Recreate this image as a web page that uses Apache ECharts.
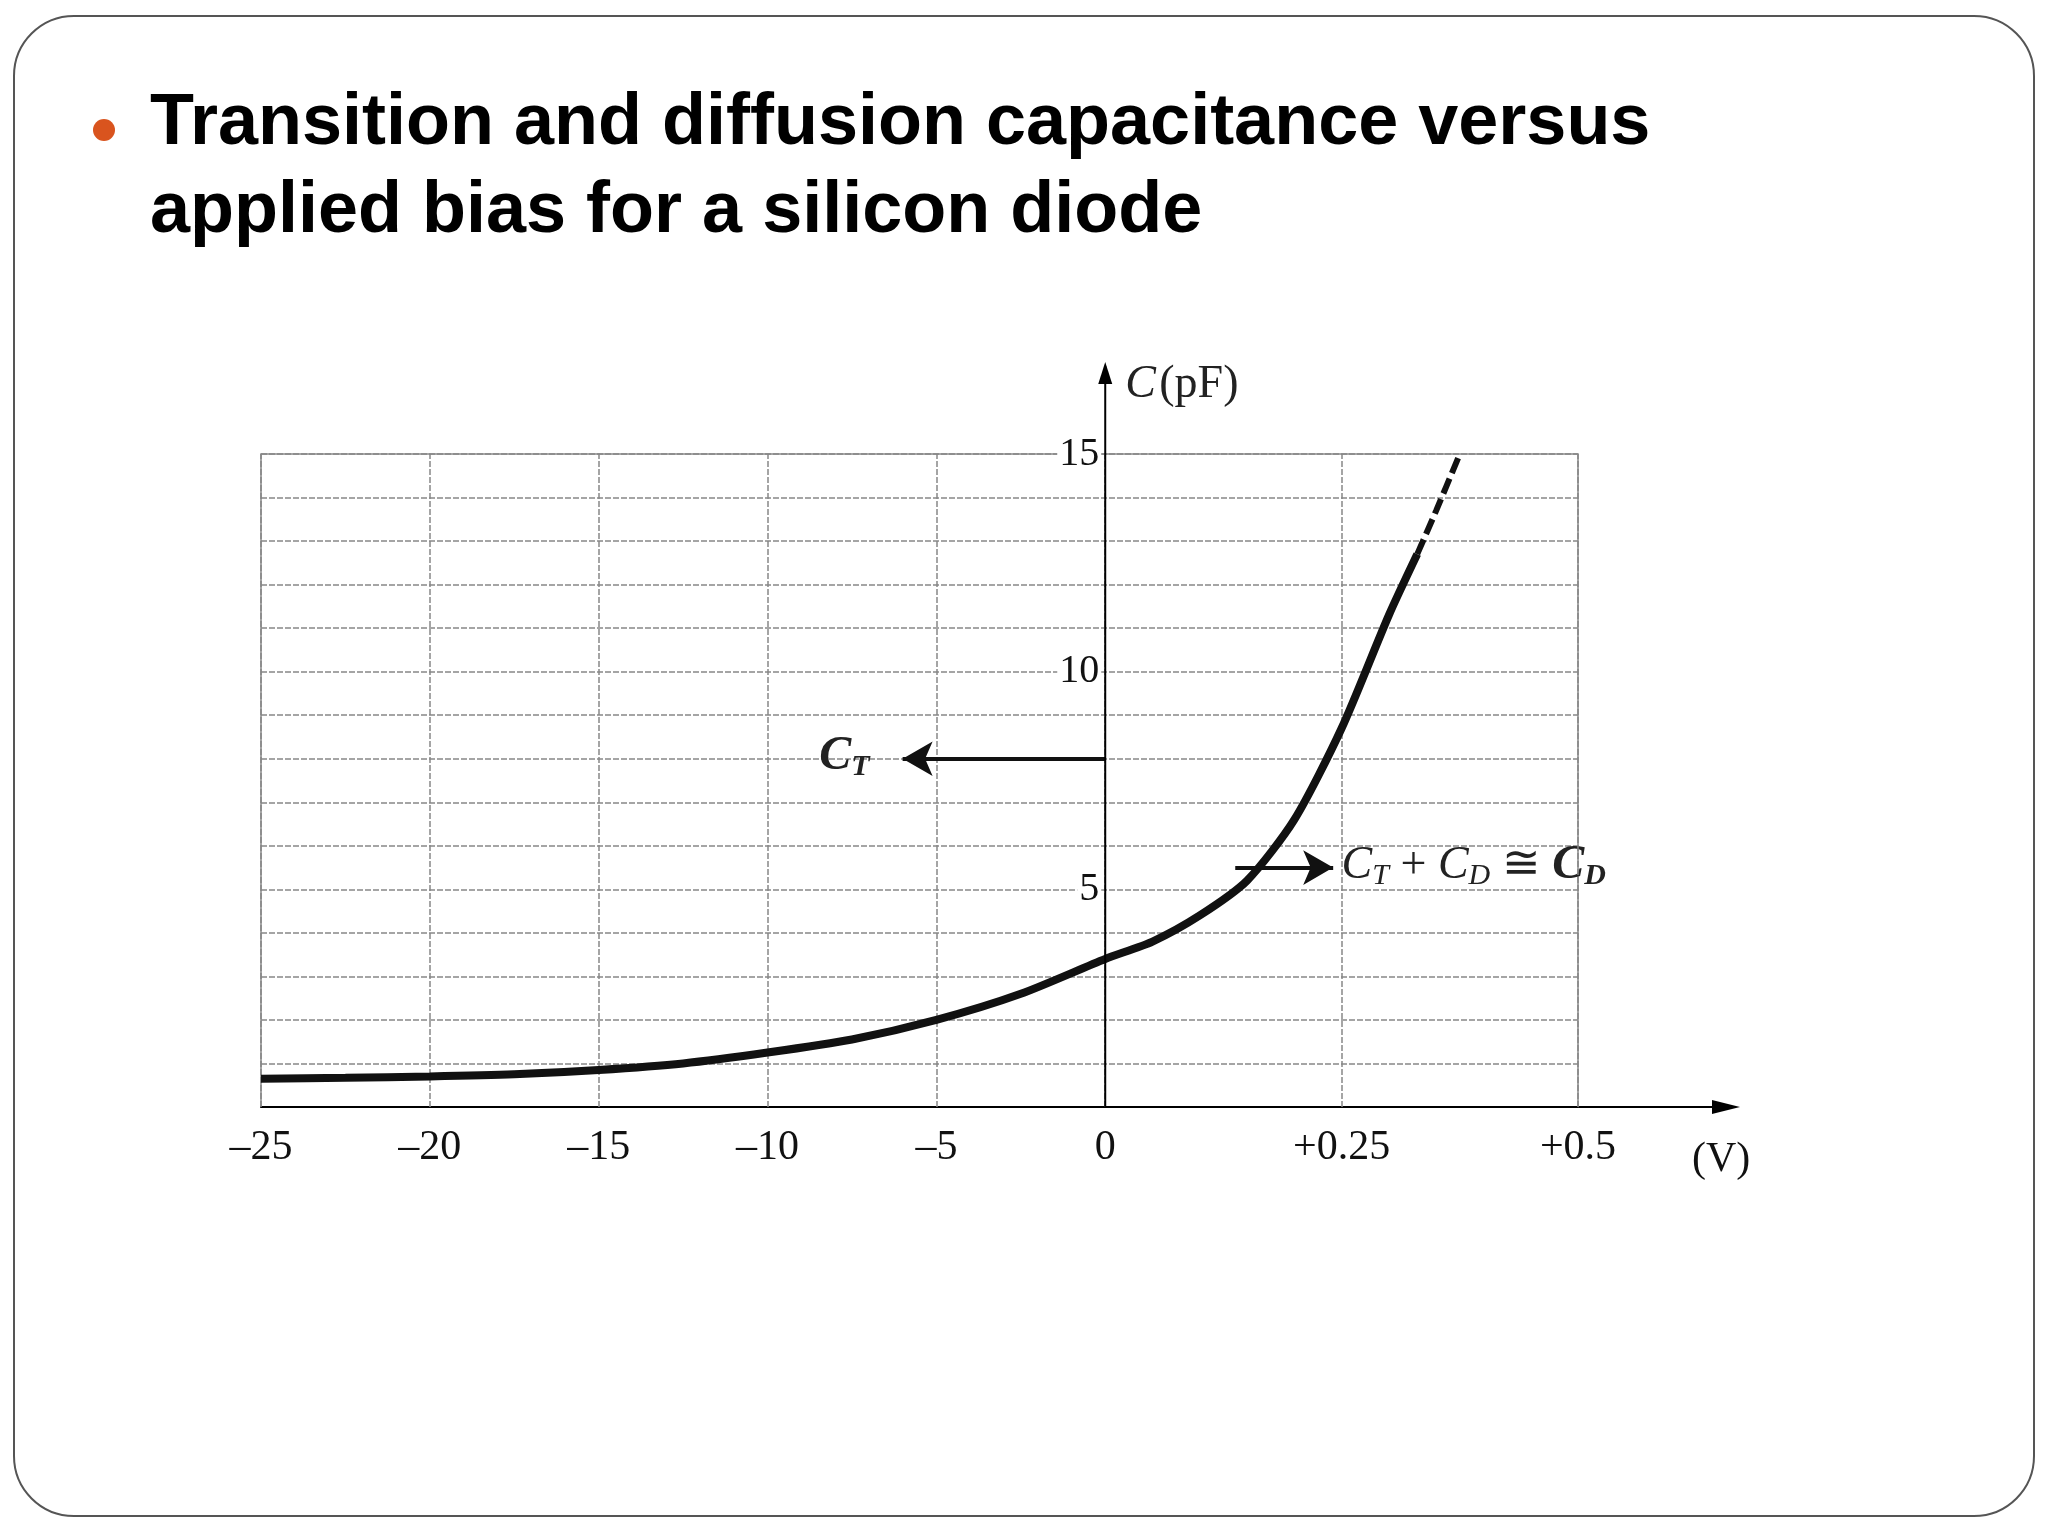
<!DOCTYPE html><html><head><meta charset="utf-8">
<script src="https://cdn.jsdelivr.net/npm/echarts@6/dist/echarts.min.js"></script>
<style>html,body{margin:0;background:#fff}#c{width:2048px;height:1536px}</style></head><body><div id="c"></div>
<script>
var voltsSolid=[-25,-22.5,-20,-17.5,-15,-12.5,-10,-7.5,-5,-2.5,0,0.05,0.1,0.15,0.2,0.25,0.3,0.33];
var capSolid=[0.65,0.67,0.7,0.75,0.85,1.0,1.25,1.55,2.0,2.6,3.4,3.8,4.4,5.2,6.6,8.7,11.3,12.7];
var voltsDash=[0.33,0.35,0.375];
var capDash=[12.7,13.7,15];
var xTickVolts=[-25,-20,-15,-10,-5,0,0.25,0.5];
var xTickLabels=['\u201325','\u201320','\u201315','\u201310','\u20135','0','+0.25','+0.5'];
var yTickLabels=[5,10,15];
function u(v){return v<0?v/5:v*5.6;}
function pts(xs,ys){return xs.map(function(v,i){return [u(v),ys[i]];});}
var serif='Liberation Serif';
var vlines=xTickVolts.map(function(v){return {xAxis:u(v)};});
var chart=echarts.init(document.getElementById('c'));
chart.setOption({
 animation:false,
 grid:{left:261,right:2048-1578,top:454,bottom:1536-1107},
 xAxis:{type:'value',min:-5,max:2.8,
  axisLine:{onZero:true,lineStyle:{color:'#000',width:2}},
  axisTick:{show:false},splitLine:{show:false},
  axisLabel:{customValues:xTickVolts.map(u),formatter:function(val){var i=xTickVolts.map(u).findIndex(function(t){return Math.abs(t-val)<1e-6});return i>=0?xTickLabels[i]:'';},
   fontFamily:serif,fontSize:42,color:'#111',margin:20,showMinLabel:true,showMaxLabel:true}},
 yAxis:{type:'value',min:0,max:15,interval:1,
  axisLine:{show:false},axisTick:{show:false},axisLabel:{show:false},
  splitLine:{lineStyle:{color:'#888',width:1.5,type:[6,2]}}},
 series:[
  {type:'line',data:pts(voltsSolid,capSolid),showSymbol:false,smooth:0.25,lineStyle:{color:'#111',width:8},z:5,
   markLine:{silent:true,symbol:'none',label:{show:false},lineStyle:{color:'#888',width:1.5,type:[6,2]},data:vlines}},
  {type:'line',data:pts(voltsDash,capDash),showSymbol:false,smooth:0.3,lineStyle:{color:'#111',width:6,type:[16,6]},z:5},
  {type:'line',data:[],markLine:{silent:true,symbol:['none','arrow'],symbolSize:[26,30],lineStyle:{color:'#111',width:4,type:'solid'},label:{show:false},
   data:[[{coord:[0,8]},{coord:[-1.2,8]}],[{coord:[0.77,5.5]},{coord:[1.35,5.5]}]]}}
 ]
});
var o=chart.convertToPixel({gridIndex:0},[0,15]);
var xr=chart.convertToPixel({gridIndex:0},[2.8,0]);
var p1=chart.convertToPixel({gridIndex:0},[-1.22,8]);
var p2=chart.convertToPixel({gridIndex:0},[1.4,5.5]);
var rich={b:{font:'italic bold 48px '+serif,fill:'#222'},bs:{font:'italic bold 30px '+serif,fill:'#222',padding:[22,0,0,0]},
 i:{font:'italic 46px '+serif,fill:'#222'},is:{font:'italic 30px '+serif,fill:'#222',padding:[22,0,0,0]},n:{font:'46px '+serif,fill:'#222'}};
var g=[
  {type:'rect',shape:{x:14,y:16,width:2020,height:1500,r:60},style:{fill:'none',stroke:'#555',lineWidth:2}},
  {type:'circle',shape:{cx:104,cy:130,r:11},style:{fill:'#d9541e'}},
  {type:'text',left:150,top:80,style:{text:'Transition and diffusion capacitance versus\napplied bias for a silicon diode',font:'bold 72px Liberation Sans',lineHeight:88,fill:'#000'}},
  {type:'line',shape:{x1:o[0],y1:xr[1],x2:o[0],y2:366},style:{stroke:'#000',lineWidth:2},z:10},
  {type:'polygon',shape:{points:[[o[0],362],[o[0]-7,384],[o[0]+7,384]]},style:{fill:'#000'}},
  {type:'line',shape:{x1:xr[0],y1:xr[1],x2:1735,y2:xr[1]},style:{stroke:'#000',lineWidth:2}},
  {type:'polygon',shape:{points:[[1740,xr[1]],[1712,xr[1]-7],[1712,xr[1]+7]]},style:{fill:'#000'}},
  {type:'rect',shape:{x:261,y:454,width:1578-261,height:xr[1]-454},style:{fill:'none',stroke:'#888',lineWidth:1.5}},
  {type:'text',x:o[0]+20,y:362,style:{text:'{i|C} {n|(pF)}',rich:rich,verticalAlign:'top'}},
  {type:'text',x:1692,y:xr[1]+32,style:{text:'(V)',font:'42px '+serif,fill:'#111'}},
  {type:'text',x:p1[0]-80,y:p1[1]-28,style:{text:'{b|C}{bs|T}',rich:rich}},
  {type:'text',x:p2[0],y:p2[1]-28,style:{text:'{i|C}{is|T}{n| + }{i|C}{is|D}{n| \u2245 }{b|C}{bs|D}',rich:rich}}
];
yTickLabels.forEach(function(v){var p=chart.convertToPixel({gridIndex:0},[0,v]);
 g.push({type:'text',x:p[0]-4,y:p[1],z:9,style:{text:String(v),font:'40px '+serif,fill:'#111',align:'right',verticalAlign:'middle',backgroundColor:'#fff',padding:[0,2]}});});
chart.setOption({graphic:g});
</script></body></html>
